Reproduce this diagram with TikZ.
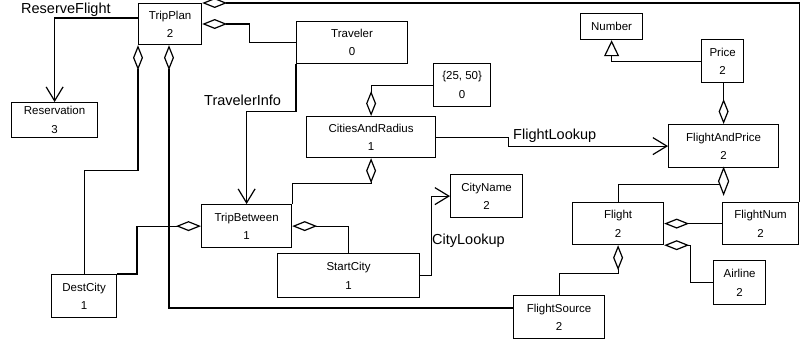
\documentclass[tikz,border=0pt]{standalone}
\usepackage{fontspec}
\setmainfont{Liberation Sans}
\usetikzlibrary{arrows.meta}
\begin{document}
\begin{tikzpicture}[x=1pt,y=-1pt,
  cls/.style={draw, line width=1.2pt, inner sep=0pt, align=center, anchor=north west,
    font=\fontsize{11.5}{18.5}\selectfont},
  lbl/.style={inner sep=0pt, anchor=base west, font=\fontsize{14.5}{16}\selectfont},
  conn/.style={line width=1.2pt},
  diam/.style={conn, {Diamond[open, length=25pt, width=10pt, line width=1.2pt]}-},
  arr/.style={conn, -{Straight Barb[length=14pt, width=17pt, line width=1.2pt]}},
  gen/.style={conn, {Triangle[open, fill=white, length=16pt, width=15pt, line width=1.2pt]}-}
]
\useasboundingbox (0,0) rectangle (801,343);
% classes
\node[cls, minimum width=63pt, minimum height=41pt] (tp) at (138,3) {TripPlan\\2};
\node[cls, minimum width=111pt, minimum height=42pt] (trav) at (296,21) {Traveler\\0};
\node[cls, minimum width=86pt, minimum height=35pt] (res) at (11,102) {Reservation\\3};
\node[cls, minimum width=129pt, minimum height=41pt] (car) at (306,116) {CitiesAndRadius\\1};
\node[cls, minimum width=57pt, minimum height=43pt] (c2550) at (433,63) {\{25, 50\}\\0};
\node[cls, minimum width=62pt, minimum height=26pt] (num) at (580,13) {Number};
\node[cls, minimum width=42pt, minimum height=43pt] (price) at (701,39) {Price\\2};
\node[cls, minimum width=110pt, minimum height=43pt] (fap) at (668,124) {FlightAndPrice\\2};
\node[cls, minimum width=72pt, minimum height=43pt] (cname) at (450,174) {CityName\\2};
\node[cls, minimum width=91pt, minimum height=42pt] (flight) at (572,202) {Flight\\2};
\node[cls, minimum width=76pt, minimum height=42pt] (fnum) at (722,202) {FlightNum\\2};
\node[cls, minimum width=52pt, minimum height=44pt] (airline) at (713,260) {Airline\\2};
\node[cls, minimum width=91pt, minimum height=43pt] (fsrc) at (513,295) {FlightSource\\2};
\node[cls, minimum width=90pt, minimum height=43pt] (tb) at (201,204) {TripBetween\\1};
\node[cls, minimum width=142pt, minimum height=44pt] (sc) at (277,253) {StartCity\\1};
\node[cls, minimum width=65pt, minimum height=43pt] (dc) at (51,274) {DestCity\\1};
% labels
\node[lbl] (lrf) at (21,13.5) {ReserveFlight};
\node[lbl] (lti) at (204,105) {TravelerInfo};
\node[lbl] (lfl) at (513,139) {FlightLookup};
\node[lbl] (lcl) at (432,244) {CityLookup};
% connectors
\draw[arr] ([yshift=-15pt]tp.north west) -| (res.north);
\draw[diam] (tp.north east) -| (fnum.north east);
\draw[diam] ([yshift=-21pt]tp.north east) -- ++(47,0) |- (trav.west);
\draw[arr] (trav.south west) -- ++(0,47) -| (tb.north);
\draw[diam] (tp.south west) -- ++(0,125) -| (dc.north);
\draw[diam] ([xshift=31pt]tp.south west) |- ([yshift=-13pt]fsrc.north west);
\draw[diam] (car.north) |- (c2550.west);
\draw[diam] (car.south) -- ++(0,25) -| (tb.north east);
\draw[arr] (car.east) -- ++(72,0) |- (fap.west);
\draw[gen] (num.south) |- (price.west);
\draw[diam] (fap.north) -- (fap.north |- price.south);
\draw[conn] (flight.north) |- ([yshift=-16pt]fap.south);
\draw[conn, fill=white] (fap.south) -- ++(5,13) -- ++(-5,13) -- ++(-5,-13) -- cycle;
\draw[diam] (flight.east) -- (fnum.west);
\draw[diam] (flight.south east) -- ++(26,0) |- (airline.west);
\draw[diam] (flight.south) -- ++(0,28) -| (fsrc.north);
\draw[arr] (sc.east) -- ++(11,0) |- (cname.west);
\draw[diam] (tb.west) -- ++(-64,0) |- (dc.north east);
\draw[diam] (tb.east) -| (sc.north);
\end{tikzpicture}
\end{document}
